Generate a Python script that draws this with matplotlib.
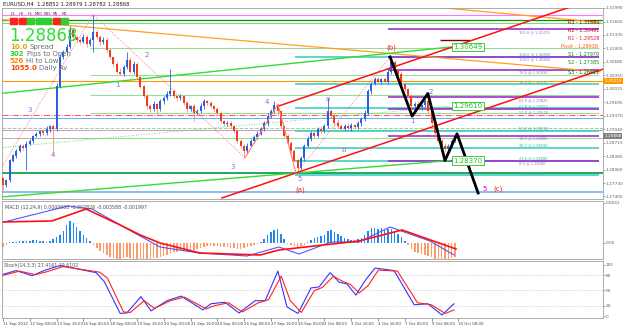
import matplotlib
matplotlib.use("Agg")
import matplotlib.pyplot as plt
from matplotlib.patches import Rectangle

W, H = 625, 328

# ---- EURUSD H4 candles ----
first_open = 1.2785
closes = [
    1.2768, 1.2780, 1.2828, 1.2840, 1.2852, 1.2864, 1.2859, 1.2869, 1.2876, 1.2888,
    1.2893, 1.2900, 1.2895, 1.2905, 1.2912, 1.2905, 1.3008, 1.3080, 1.3092, 1.3104,
    1.3145, 1.3128, 1.3121, 1.3116, 1.3128, 1.3111, 1.3121, 1.3140, 1.3128, 1.3116,
    1.3121, 1.3097, 1.3080, 1.3063, 1.3044, 1.3039, 1.3056, 1.3073, 1.3044, 1.3063,
    1.3032, 1.3008, 1.2984, 1.2960, 1.2953, 1.2965, 1.2953, 1.2972, 1.2979, 1.2989,
    1.2996, 1.2984, 1.2979, 1.2984, 1.2967, 1.2953, 1.2960, 1.2943, 1.2948, 1.2960,
    1.2972, 1.2967, 1.2960, 1.2953, 1.2943, 1.2924, 1.2917, 1.2919, 1.2912, 1.2900,
    1.2876, 1.2864, 1.2852, 1.2864, 1.2876, 1.2886, 1.2893, 1.2905, 1.2919, 1.2936,
    1.2948, 1.2962, 1.2948, 1.2912, 1.2888, 1.2871, 1.2852, 1.2828, 1.2809, 1.2833,
    1.2864, 1.2881, 1.2895, 1.2888, 1.2905, 1.2900, 1.2912, 1.2948, 1.2936, 1.2919,
    1.2912, 1.2905, 1.2912, 1.2907, 1.2914, 1.2910, 1.2919, 1.2929, 1.2943, 1.2996,
    1.3015, 1.3025, 1.3020, 1.3025, 1.3020, 1.3044, 1.3068, 1.3049, 1.3039, 1.3015,
    1.3001, 1.2984, 1.2960, 1.2965, 1.2958, 1.2962, 1.2972, 1.2948, 1.2919, 1.2895,
    1.2876, 1.2864, 1.2856, 1.2864, 1.2876, 1.28868]
# wick lengths in pips above / below the body
wick_up = [
    2, 4, 3, 5, 3, 4, 3, 6, 4, 3, 5, 3, 4, 6, 3, 5, 8, 6, 5, 7,
    9, 5, 4, 6, 8, 5, 4, 43, 6, 5, 7, 4, 5, 3, 6, 8, 5, 19, 6, 7,
    5, 4, 3, 6, 5, 8, 4, 6, 5, 7, 55, 6, 4, 5, 3, 6, 4, 5, 6, 8,
    5, 4, 6, 3, 4, 5, 3, 6, 4, 3, 5, 4, 3, 6, 5, 4, 6, 5, 4, 7,
    5, 10, 6, 4, 3, 5, 4, 3, 4, 6, 5, 7, 4, 6, 5, 8, 6, 31, 5, 4,
    6, 5, 4, 7, 5, 4, 6, 5, 8, 6, 5, 7, 6, 4, 5, 6, 12, 5, 4, 6,
    5, 4, 6, 5, 7, 4, 6, 5, 4, 6, 5, 4, 6, 5, 4, 3]
wick_dn = [
    12, 5, 4, 3, 5, 4, 6, 55, 4, 5, 3, 6, 4, 5, 7, 60, 5, 4, 6, 5,
    4, 6, 5, 4, 3, 6, 5, 29, 4, 6, 5, 4, 6, 5, 4, 3, 6, 5, 4, 5,
    6, 4, 5, 7, 8, 5, 12, 4, 6, 5, 4, 5, 6, 4, 5, 6, 5, 19, 4, 5,
    6, 4, 5, 6, 4, 5, 6, 4, 5, 6, 5, 6, 17, 5, 4, 6, 5, 4, 5, 6,
    4, 5, 6, 5, 4, 6, 5, 4, 12, 5, 6, 4, 5, 6, 4, 5, 6, 5, 4, 8,
    5, 6, 4, 5, 6, 4, 5, 6, 4, 5, 6, 4, 5, 6, 4, 5, 6, 5, 4, 6,
    5, 4, 6, 5, 4, 6, 5, 4, 6, 5, 4, 6, 5, 4, 5, 4]

date_labels = ["11 Sep 2012", "12 Sep 08:00", "13 Sep 16:00", "16 Sep 00:00",
               "18 Sep 08:00", "19 Sep 16:00", "20 Sep 00:00", "21 Sep 16:00",
               "24 Sep 00:00", "25 Sep 08:00", "27 Sep 16:00", "30 Sep 00:00",
               "2 Oct 08:00", "3 Oct 16:00", "4 Oct 16:00", "7 Oct 00:00",
               "9 Oct 08:00", "10 Oct 08:00"]
price_ticks = [1.31990, 1.31660, 1.31335, 1.31005, 1.30680, 1.30350, 1.30025,
               1.29695, 1.29370, 1.29040, 1.28715, 1.28385, 1.28060, 1.27730, 1.27405]

# ---- drawn objects (bar index, price) ----
full_levels = [1.3183, 1.3169, 1.3162, 1.3022, 1.2797, 1.2751]
full_colors = ["#ff77ff", "#108a10", "#77dd77", "#ff9900", "#10a050", "#8cbcf0"]
full_widths = [0.8, 0.9, 0.8, 0.8, 1.3, 1.4]
dash_levels = [1.2938, 1.2931, 1.2907, 1.2902, 1.2883]
dash_colors = ["#ff5050", "#66aaff", "#88dd88", "#dd88dd", "#b0b0b0"]
green_levels = [1.3102, 1.3037, 1.2987, 1.2943, 1.2883]
teal_levels = [1.3080, 1.3013, 1.2955, 1.2900, 1.2859, 1.2828, 1.2792]
teal_fibs = ["100.0", "76.4", "61.8", "50.0", "38.2", "23.6", "0.0"]
purple_levels = [1.3147, 1.3080, 1.3049, 1.2982, 1.2953, 1.2888, 1.2828]
purple_fibs = ["161.8", "100.0", "78.6", "61.8", "50.0", "38.2", "0.0"]

orange_bars, orange_prices = [-0.9, 178.3], [1.3171, 1.3044]
orange2_bars, orange2_prices = [130.7, 178.3], [1.3200, 1.3164]
green_up_bars, green_up_prices = [-0.9, 133.5], [1.2991, 1.3104]
green_dn_bars, green_dn_prices = [-0.9, 133.5], [1.2739, 1.2828]
green_dot_bars, green_dot_prices = [-0.9, 133.5], [1.2859, 1.2960]
red_up_bars, red_up_prices = [82.1, 173.2], [1.2960, 1.3212]
red_dn_bars, red_dn_prices = [65.4, 181.3], [1.2737, 1.3056]
zz_bars = [-0.9, 26.9, 72.3, 82.1, 87.5, 115.6]
zz_prices = [1.2804, 1.3183, 1.2835, 1.2965, 1.2797, 1.3080]
proj_bars = [115.6, 122.2, 126.9, 132.0, 135.6, 141.9]
proj_prices = [1.3080, 1.2936, 1.2991, 1.2828, 1.2893, 1.2749]

# ---- indicators ----
macd_hist = [
    -4, -2, 1, 1, 1, 2, 2, 2, 2, 3, 3, 2, 2, 1, 2, 4, 6, 8, 12, 18,
    22, 20, 16, 12, 8, 5, 2, -2, -5, -8, -10, -12, -14, -15, -16, -16, -15, -14, -15, -16,
    -16, -16, -16, -16, -16, -15, -15, -14, -13, -12, -10, -9, -9, -8, -8, -8, -7, -7, -6, -5,
    -4, -3, -3, -3, -3, -4, -4, -4, -5, -5, -6, -6, -5, -4, -3, -2, -1, 1, 4, 8,
    11, 13, 14, 9, 4, -1, -2, -3, -4, -3, -2, 1, 3, 5, 6, 7, 8, 12, 13, 11,
    9, 7, 5, 4, 3, 3, 4, 5, 8, 12, 15, 15, 14, 15, 13, 14, 14, 12, 9, 6,
    2, -2, -6, -9, -10, -11, -12, -13, -14, -16, -16, -16, -16, -16, -15, -14]
macd_red_bars = [-0.9, 14.6, 24.8, 35.0, 41.0, 46.9, 58.8, 76.8, 82.4, 106.3, 119.2, 135.3]
macd_red_vals = [21, 22, 34, 18, 8, 0, -10, -12, -7, 2, 13, -6]
macd_blue_bars = [-0.9, 19.4, 26.6, 38.2, 46.9, 58.5, 72.9, 82.4, 88.4, 98.0, 106.3, 115.6, 127.5, 134.7]
macd_blue_vals = [20, 37, 34, 12, -4, -10, -13, -4, -11, 1, 1, 16, 2, -12]

stoch_k_bars = [-0.9, 3.9, 8.7, 12.2, 17.0, 27.8, 30.2, 35.0, 37.0, 41.2, 44.2, 49.0,
                53.2, 59.7, 62.1, 66.3, 70.5, 75.3, 78.3, 82.1, 84.8, 88.1, 92.0, 94.4,
                97.7, 100.4, 102.7, 105.4, 108.1, 111.1, 116.8, 122.8, 126.9, 131.1, 134.7]
stoch_k = [80, 89, 79, 89, 99, 85, 68, 5, 6, 38, 10, 30, 39, 12, 24, 27, 6, 30, 30, 88,
           18, 5, 55, 57, 85, 66, 63, 41, 69, 94, 89, 22, 24, 2, 24]
stoch_d_bars = [-0.9, 4.9, 9.7, 13.2, 18.0, 28.8, 31.2, 36.0, 38.0, 42.2, 45.2, 50.0,
                54.2, 60.7, 63.1, 67.3, 71.5, 76.3, 79.3, 83.1, 85.8, 89.1, 93.0, 95.4,
                98.7, 101.4, 103.7, 106.4, 109.1, 112.1, 117.8, 123.8, 127.9, 132.1, 134.7]
stoch_d = [78, 88, 81, 87, 97, 86, 74, 8, 7, 30, 15, 30, 37, 14, 20, 26, 8, 26, 32, 78,
           30, 7, 50, 56, 78, 68, 62, 45, 60, 90, 88, 26, 22, 5, 12]


def fx(x):
    return x / W


def fy(y):
    return 1 - y / H


fig = plt.figure(figsize=(6.25, 3.28), dpi=100)
fig.patch.set_facecolor("white")

XL = (-0.3, 179.2)
ax = fig.add_axes([fx(2), fy(199), fx(601), 191 / H])
am = fig.add_axes([fx(2), fy(259), fx(601), 58 / H])
ast = fig.add_axes([fx(2), fy(318), fx(601), 57 / H])

for a in (ax, am, ast):
    a.set_xlim(*XL)
    a.set_facecolor("white")
    for s in a.spines.values():
        s.set_color("#a0a0a0")
        s.set_linewidth(0.6)
    a.yaxis.tick_right()
    a.tick_params(axis="y", labelsize=3.1, colors="#606060", length=1.2, width=0.4, pad=0.6)
    a.tick_params(axis="x", length=0)
    a.set_xticks([])

# ---- main panel ----
ax.set_ylim(1.27344, 1.31928)
ax.set_yticks(price_ticks)
ax.set_yticklabels([f"{p:.5f}" for p in price_ticks])

for p, c, w in zip(full_levels, full_colors, full_widths):
    ax.axhline(p, color=c, lw=w, zorder=1)
for p, c, ls in zip(dash_levels, dash_colors, ["-.", "-", "--", "-", "-"]):
    ax.axhline(p, color=c, lw=0.7, ls=ls, zorder=1)
ax.hlines(green_levels, 26, 178, color="#99dd99", lw=0.8, zorder=1)
ax.hlines(teal_levels, 87.2, 178, color="#40d0c0", lw=1.2, zorder=1)
ax.hlines(purple_levels, 115, 178, color="#9933cc", lw=1.2, zorder=1)
ax.hlines([1.3121], 130.5, 139.5, color="#800000", lw=1.0, zorder=1)
for p, f in zip(teal_levels, teal_fibs):
    ax.text(154, p + 0.00005, f"{f} @ {p:.5f}", fontsize=2.6, color="#30b0a0", va="bottom", zorder=2)
for p, f in zip(purple_levels, purple_fibs):
    ax.text(154, p - 0.0002, f"{f} @ {p:.5f}", fontsize=2.6, color="#a070d0", va="top", zorder=2)

# candles
opens = [first_open] + closes[:-1]
for i, (o, c) in enumerate(zip(opens, closes)):
    up = c >= o
    hi = max(o, c) + wick_up[i] * 0.0001
    lo = min(o, c) - wick_dn[i] * 0.0001
    ax.vlines(i, lo, hi, color="#3060e8" if up else "#ff8a70", lw=0.6, zorder=3)
    ax.bar(i, abs(c - o) + 0.00003, bottom=min(o, c), width=0.6,
           color="#2c5fe0" if up else "#f03c1c", zorder=3)

ax.plot(orange_bars, orange_prices, color="#ffa020", lw=0.9, zorder=2)
ax.plot(orange2_bars, orange2_prices, color="#ffa020", lw=0.9, zorder=2)
ax.plot(green_up_bars, green_up_prices, color="#33dd33", lw=1.0, zorder=2)
ax.plot(green_dn_bars, green_dn_prices, color="#33dd33", lw=1.0, zorder=2)
ax.plot(green_dot_bars, green_dot_prices, color="#66dd66", lw=0.7, ls=":", zorder=2)
ax.plot(red_up_bars, red_up_prices, color="#ff1010", lw=1.1, zorder=4)
ax.plot(red_dn_bars, red_dn_prices, color="#ff1010", lw=1.1, zorder=4)
ax.plot(zz_bars, zz_prices, color="#ff6060", lw=0.6, ls=":", zorder=4)
ax.plot(zz_bars[2:5], zz_prices[2:5], color="#ff8060", lw=0.7, zorder=4)
ax.plot(proj_bars, proj_prices, color="black", lw=2.0, zorder=5)

# price boxes on the axis
ytr = ax.get_yaxis_transform()
ax.text(1.002, closes[-1], f"{closes[-1]:.5f}", transform=ytr, fontsize=3.1, color="white",
        va="center", ha="left", clip_on=False,
        bbox=dict(boxstyle="square,pad=0.2", fc="#808080", ec="none"))
ax.text(1.002, full_levels[3], "1.30215", transform=ytr, fontsize=3.1, color="white",
        va="center", ha="left", clip_on=False,
        bbox=dict(boxstyle="square,pad=0.2", fc="#ff9900", ec="none"))

# green price boxes at the ends of the lines
for b, p, t in [(134.5, 1.3104, "1.30649"), (134.5, 1.2960, "1.29610"), (134.5, 1.2828, "1.28370")]:
    ax.text(b, p, t, fontsize=5, color="#20c020", va="center", ha="left", zorder=6,
            bbox=dict(boxstyle="square,pad=0.15", fc="white", ec="#20c020", lw=0.6))

# wave labels
waves = [(30, 110, "3", "#9966cc"), (53, 155, "4", "#9966cc"), (117, 85, "1", "#9966cc"),
         (147, 55, "2", "#9966cc"), (233, 167, "3", "#9966cc"), (267, 102, "4", "#9966cc"),
         (300, 179, "5", "#9966cc"), (328, 99, "a", "#9966cc"), (344, 150, "b", "#9966cc"),
         (412, 121, "1", "#9966cc"), (431, 92, "2", "#9966cc"), (485, 189, "5", "#cc00cc"),
         (300, 190, "(a)", "#ff2020"), (391, 48, "(b)", "#ff2020"), (498, 189, "(c)", "#ff2020")]
for x, y, t, c in waves:
    fig.text(fx(x), fy(y), t, fontsize=5, color=c, ha="center", va="center")

# pivots
pivots = [(568, 23, "R3 - 1.31681", "#8b0000"), (568, 30, "R2 - 1.30491", "#c00020"),
          (568, 38, "R1 - 1.29528", "#e0203c"), (561, 46, "Pivot - 1.28938", "#ff6600"),
          (568, 55, "S1 - 1.27979", "#1a8a1a"), (568, 63, "S2 - 1.27385", "#1a8a1a"),
          (568, 72, "S3 - 1.26421", "#006400")]
for x, y, t, c in pivots:
    fig.text(fx(x), fy(y), t, fontsize=3.5, color=c, ha="left", va="center")

# title and info panel
fig.text(fx(3), fy(4), "EURUSD,H4  1.28852 1.28979 1.28782 1.28868", fontsize=3.8,
         color="#202020", va="center")
tfs = ["D1", "H4", "H1", "M30", "M15", "M5", "M1"]
tf_cols = ["#ff2020", "#ff2020", "#30d030", "#30d030", "#30d030", "#ff2020", "#30d030"]
for k, (t, c) in enumerate(zip(tfs, tf_cols)):
    x0 = 10 + k * 8.5
    fig.text(fx(x0 + 3), fy(14), t, fontsize=2.6, color="#303030", ha="center", va="center")
    for yy in (17.5, 21):
        fig.add_artist(Rectangle((fx(x0), fy(yy + 2.5)), fx(7), 2.5 / H, color=c,
                                 transform=fig.transFigure))
fig.text(fx(9), fy(36), "1.28868", fontsize=12, color="#33dd33", va="center")
info = [("10.0", "Spread", "#e8a000", 47), ("302", "Pips to Open", "#33cc33", 54),
        ("526", "Hi to Low", "#ff8c00", 61), ("1055.0", "Daily Av", "#ff4500", 68)]
for n, t, c, y in info:
    num = fig.text(fx(10), fy(y), n, fontsize=5, color=c, va="center", weight="bold")
    ax.annotate(t, xy=(1, 0.5), xycoords=num, xytext=(1.5, 0), textcoords="offset points",
                fontsize=5, color="#707070", va="center", ha="left", annotation_clip=False)

# ---- MACD panel ----
am.set_ylim(-0.0016, 0.0042)
am.bar(range(len(macd_hist)), [v * 0.0001 for v in macd_hist], width=0.45,
       color=["#2288ee" if v > 0 else "#ff9966" for v in macd_hist])
am.plot(macd_blue_bars, [v * 0.0001 for v in macd_blue_vals], color="#5555ff", lw=0.8)
am.plot(macd_red_bars, [v * 0.0001 for v in macd_red_vals], color="#ff1010", lw=1.2)
am.set_yticks([0.0, 0.0040])
am.set_yticklabels(["0.00", "0.0041"])
am.text(0.005, 0.93, "MACD (12,24,9) 0.0000000 -0.002826 -0.003588 -0.001997",
        transform=am.transAxes, fontsize=3.4, color="#505050", va="top")

# ---- Stochastic panel ----
ast.set_ylim(-3.9, 107.8)
for lv in (20, 50, 80):
    ast.axhline(lv, color="#b0b0b0", lw=0.5, ls=":")
ast.plot(stoch_k_bars, stoch_k, color="#3333ff", lw=0.8)
ast.plot(stoch_d_bars, stoch_d, color="#ff2222", lw=0.8)
ast.set_yticks([0, 20, 50, 80, 100])
ast.text(0.003, 0.96, "Stoch(14,3,3) 27.4161 19.6102", transform=ast.transAxes,
         fontsize=3.4, color="#505050", va="top")
ast.set_xticks([k * 8 for k in range(len(date_labels))])
ast.set_xticklabels(date_labels, fontsize=2.8, color="#404040", ha="left")
ast.tick_params(axis="x", length=2, width=0.4, pad=1, colors="#404040")

fig.savefig("out.png", dpi=100, facecolor="white")
